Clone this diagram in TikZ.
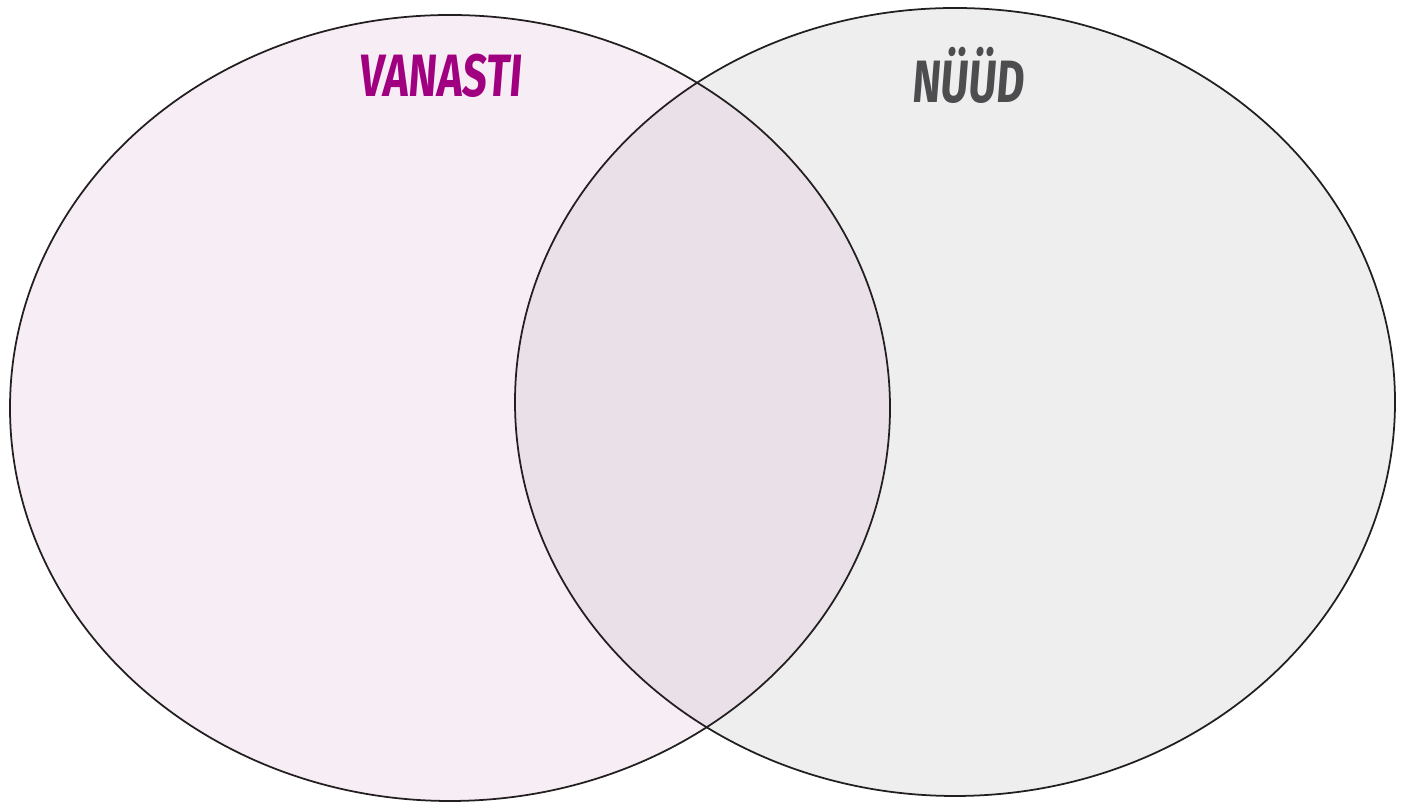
\documentclass[tikz,border=0pt]{standalone}
\usepackage{fontspec}
\newfontfamily\handfont[FakeStretch=0.72,FakeSlant=0.08]{Fira Sans}
\usetikzlibrary{positioning}
\definecolor{vennline}{RGB}{35,31,32}
\definecolor{vennpink}{RGB}{247,237,245}
\definecolor{venngrey}{RGB}{238,238,238}
\definecolor{vennmix}{RGB}{233,224,232}
\definecolor{vennpurple}{RGB}{160,0,128}
\definecolor{venndark}{RGB}{77,77,79}
\tikzset{
  vennedge/.style={draw=vennline,line width=1pt},
  venntitle/.style={font=\handfont\bfseries\fontsize{34}{34}\selectfont,inner sep=0pt}
}

\begin{document}
\begin{tikzpicture}
  \useasboundingbox (0,0) rectangle (28.08,16.06);
  % Vanasti (vasak)
  \fill[vennpink] (9.0,7.9) ellipse (8.8 and 7.86);
  % Nüüd (parem)
  \fill[venngrey] (19.1,8.02) ellipse (8.8 and 7.88);
  % Ühisosa
  \begin{scope}
    \clip (9.0,7.9) ellipse (8.8 and 7.86);
    \fill[vennmix] (19.1,8.02) ellipse (8.8 and 7.88);
  \end{scope}
  \draw[vennedge] (9.0,7.9) ellipse (8.8 and 7.86);
  \draw[vennedge] (19.1,8.02) ellipse (8.8 and 7.88);
  % Pealkirjad
  \node[venntitle,text=vennpurple] (vanasti) at (8.8,14.55) {VANASTI};
  \node[venntitle,text=venndark] (nuud) at (19.35,14.55) {NÜÜD};
\end{tikzpicture}
\end{document}
